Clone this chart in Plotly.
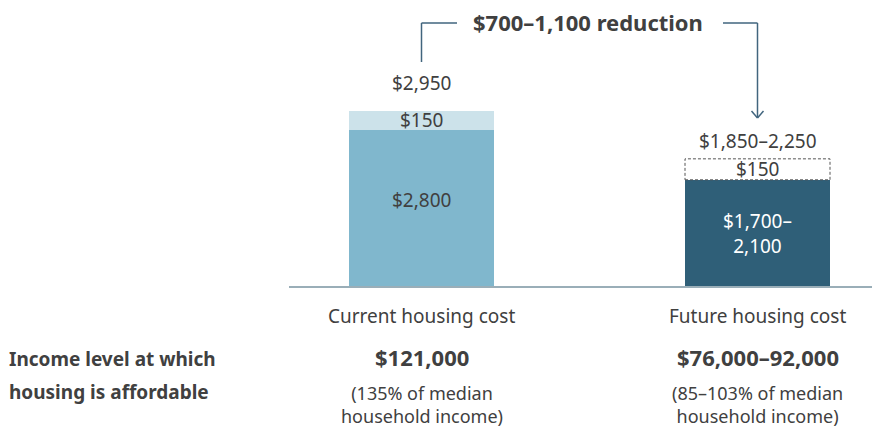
import plotly.graph_objects as go

# ---- data ----
categories = ["Current housing cost", "Future housing cost"]
base_values = [2800, 1900]          # plotted base segment (future = midpoint of 1,700–2,100)
fee_values = [340, 375]             # plotted height of the $150 segment as drawn
base_labels = ["$2,800", "$1,700–<br>2,100"]
fee_labels = ["$150", "$150"]
total_labels = ["$2,950", "$1,850–2,250"]
income_labels = ["$121,000", "$76,000–92,000"]
income_notes = ["(135% of median<br>household income)", "(85–103% of median<br>household income)"]
reduction_label = "$700–1,100 reduction"
row_label = ["Income level at which", "housing is affordable"]

# ---- layout constants (page has an 8px body offset) ----
OFF = 8
W, H = 880 - OFF, 429 - OFF
PLOT_L, PLOT_BOTTOM = 289, 286          # in screenshot pixels
L = PLOT_L - OFF
T = 0
B = H - (PLOT_BOTTOM - OFF)
R = 0
PW = W - L - R
PH = H - T - B
FONT = "Noto Sans"
TXT = "#404040"
LINE = "#41657e"
base_colors = ["#80b7cd", "#2f5f78"]
fee_color = "#cce2ea"
xpos = [0, 1]
total_gap = [27, 18]
base_label_shift = [-8, 1]
PX_PER_X = 336
XMIN = -(421.5 - PLOT_L) / PX_PER_X
XMAX = XMIN + PW / PX_PER_X
bar_w = 145 / PX_PER_X
units_per_px = 2800 / 156.5
yr = PH * units_per_px


def px(xp):
    return (xp - PLOT_L) / PW


def py(yp):
    return (PLOT_BOTTOM - yp) / PH


def xd(xp):
    return XMIN + (xp - PLOT_L) / PX_PER_X


fig = go.Figure()
fig.add_trace(go.Bar(x=xpos, y=base_values, width=bar_w,
                     marker=dict(color=base_colors, line=dict(width=0)),
                     hoverinfo="skip"))
fig.add_trace(go.Bar(x=xpos, y=fee_values, width=bar_w,
                     marker=dict(color=[fee_color, "rgba(255,255,255,0)"], line=dict(width=0)),
                     hoverinfo="skip"))

# dashed outline of future fee segment
fig.add_shape(type="rect", xref="x", yref="y",
              x0=xpos[1] - bar_w / 2, x1=xpos[1] + bar_w / 2,
              y0=base_values[1], y1=base_values[1] + fee_values[1],
              line=dict(color="#555555", width=1, dash="3px,2px"), layer="above")

ann = []


def txt(x, y, text, size=19, bold=False, color=TXT, xref="x", xanchor="center", align="center"):
    if bold:
        text = "<b>" + text.replace("<br>", "</b><br><b>") + "</b>"
    ann.append(dict(x=x, y=y, xref=xref, yref="paper", text=text, showarrow=False,
                    font=dict(family=FONT, size=size, color=color),
                    xanchor=xanchor, yanchor="middle", align=align))


for i, xp in enumerate(xpos):
    top_px = PLOT_BOTTOM - (base_values[i] + fee_values[i]) / units_per_px
    base_px = PLOT_BOTTOM - base_values[i] / units_per_px
    txt(xp, py(top_px - total_gap[i]), total_labels[i])
    txt(xp, py((top_px + base_px) / 2), fee_labels[i])
    txt(xp, py((base_px + PLOT_BOTTOM) / 2 + base_label_shift[i]), base_labels[i],
        color=TXT if i == 0 else "white")
    txt(xp, py(316), categories[i])
    txt(xp, py(357), income_labels[i], size=22, bold=True)
    txt(xp, py(404), income_notes[i], size=18)

txt(px(7), py(359), row_label[0], size=19, bold=True, xref="paper", xanchor="left", align="left")
txt(px(7), py(392), row_label[1], size=19, bold=True, xref="paper", xanchor="left", align="left")
txt(px(588), py(22), reduction_label, size=22, bold=True, xref="paper")
fig.update_layout(annotations=ann)

# bracket + arrow
lw = 1.5
line = dict(color=LINE, width=lw)
fig.add_shape(type="line", xref="x", yref="paper", x0=xpos[0], x1=xpos[0], y0=py(62), y1=py(23), line=line)
fig.add_shape(type="line", xref="x", yref="paper", x0=xpos[0], x1=xd(457), y0=py(23), y1=py(23), line=line)
fig.add_shape(type="line", xref="x", yref="paper", x0=xd(723), x1=xpos[1], y0=py(23), y1=py(23), line=line)
fig.add_shape(type="line", xref="x", yref="paper", x0=xpos[1], x1=xpos[1], y0=py(23), y1=py(118), line=line)
fig.add_shape(type="line", xref="x", yref="paper", x0=xpos[1] - 6 / PX_PER_X, x1=xpos[1], y0=py(111), y1=py(118), line=line)
fig.add_shape(type="line", xref="x", yref="paper", x0=xpos[1] + 6 / PX_PER_X, x1=xpos[1], y0=py(111), y1=py(118), line=line)

fig.update_layout(
    width=W, height=H, barmode="stack", showlegend=False,
    margin=dict(l=L, r=R, t=T, b=B, pad=0),
    paper_bgcolor="white", plot_bgcolor="white",
    xaxis=dict(range=[XMIN, XMAX], showgrid=False, zeroline=False, showticklabels=False,
               showline=True, linecolor="#9aaeb8", linewidth=2, fixedrange=True),
    yaxis=dict(range=[0, yr], showgrid=False, zeroline=False, showticklabels=False,
               showline=False, fixedrange=True),
    font=dict(family=FONT, color=TXT),
)
fig.write_html("out.html")
